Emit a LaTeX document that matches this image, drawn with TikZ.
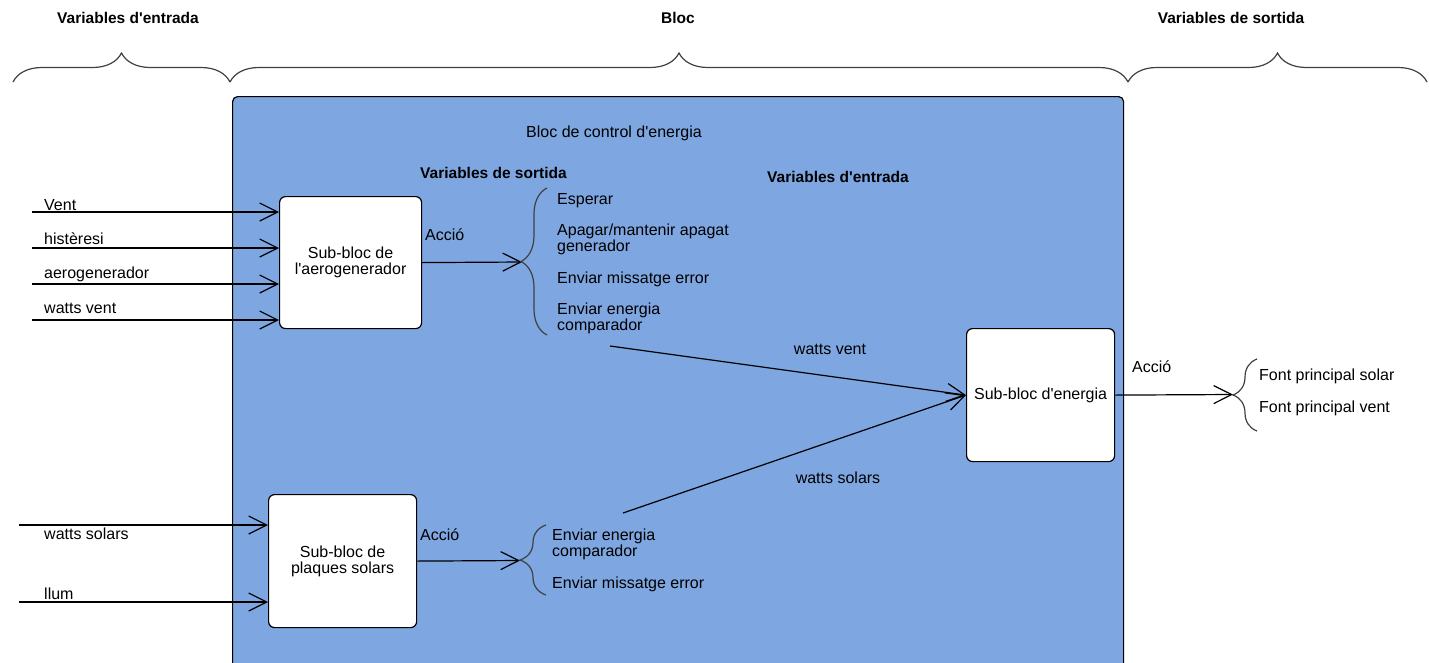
\documentclass[tikz,border=0pt]{standalone}
\usepackage{fontspec}
\setmainfont{Liberation Sans}
\usetikzlibrary{arrows.meta,decorations.pathreplacing}
\definecolor{blocblue}{HTML}{7EA6E0}
\definecolor{bracegray}{HTML}{404040}
\newcommand{\aq}{\textquotesingle}
\begin{document}
\begin{tikzpicture}[x=1pt,y=-1pt,
  txt/.style={inner sep=0pt, anchor=base west, font=\fontsize{16}{16}\selectfont},
  ctxt/.style={inner sep=0pt, anchor=base, font=\fontsize{16}{16}\selectfont},
  ttl/.style={inner sep=0pt, anchor=base, font=\bfseries\fontsize{15.5}{16}\selectfont},
  subbox/.style={draw=black, fill=white, rounded corners=6pt, line width=1.2pt, align=center, inner sep=0pt, anchor=north west, font=\fontsize{16}{16}\selectfont},
  conn/.style={line width=1.2pt, -{Straight Barb[length=18pt,width=18pt]}},
  bracestyle/.style={draw=bracegray, line width=1.2pt, decorate, decoration={brace, amplitude=#1}},
]
\useasboundingbox (0,0) rectangle (1429,662);
\clip (0,0) rectangle (1429,662);

% top braces and titles
\node[ttl] (tin) at (128,23.5) {Variables d\aq entrada};
\node[ttl] (tbloc) at (678,23.5) {Bloc};
\node[ttl] (tout) at (1231,23.5) {Variables de sortida};
\draw[bracestyle=29pt] (13,82) -- (230,82);
\draw[bracestyle=29pt] (230,82) -- (1128,82);
\draw[bracestyle=29pt] (1128,82) -- (1427,82);

% main block (runs past the bottom edge)
\node[draw=black, fill=blocblue, rounded corners=5pt, line width=1.2pt, minimum width=891pt, minimum height=600pt, inner sep=0pt, anchor=north west] (bloc) at (232,96) {};
\node[ctxt] (bloctitle) at (614,137.5) {Bloc de control d\aq energia};
\node[inner sep=0pt, anchor=base west, font=\bfseries\fontsize{15.5}{16}\selectfont] (vsort) at (420,178.5) {Variables de sortida};
\node[ttl] (ventr) at (838,182.5) {Variables d\aq entrada};

% sub-blocks
\node[subbox, minimum width=142pt, minimum height=132pt] (aero) at (279,196) {Sub-bloc de\\l\aq aerogenerador};
\node[subbox, minimum width=148pt, minimum height=133pt] (solar) at (268,494) {Sub-bloc de\\plaques solars};
\node[subbox, minimum width=148pt, minimum height=133pt] (energy) at (966,328) {Sub-bloc d\aq energia};

% inputs of aerogenerador
\coordinate (iVent) at (32,212);
\coordinate (iHist) at (32,248);
\coordinate (iAero) at (32,284);
\coordinate (iWv) at (32,320);
\draw[conn] (iVent) -- (iVent -| aero.west);
\draw[conn] (iHist) -- (iHist -| aero.west);
\draw[conn] (iAero) -- (iAero -| aero.west);
\draw[conn] (iWv) -- (iWv -| aero.west);
\node[txt] (lVent) at (44,210.5) {Vent};
\node[txt] (lHist) at (44,244.5) {histèresi};
\node[txt] (lAero) at (44,278.5) {aerogenerador};
\node[txt] (lWv) at (44,313.5) {watts vent};

% inputs of solar
\coordinate (iWs) at (19,525);
\coordinate (iLlum) at (19,602);
\draw[conn] (iWs) -- (iWs -| solar.west);
\draw[conn] (iLlum) -- (iLlum -| solar.west);
\node[txt] (lWs) at (44,539.5) {watts solars};
\node[txt] (lLlum) at (44,599.5) {llum};

% aerogenerador outputs
\coordinate (abr) at (522,262);
\draw[conn] (aero.east) -- (abr);
\node[txt] (aAccio) at (425,240.5) {Acció};
\draw[bracestyle=26pt] (547,335) -- (547,188);
\node[txt] (o1) at (557,204.5) {Esperar};
\node[txt] (o2a) at (557,235.5) {Apagar/mantenir apagat};
\node[txt] (o2b) at (557,251.5) {generador};
\node[txt] (o3) at (557,283.5) {Enviar missatge error};
\node[txt] (o4a) at (557,314.5) {Enviar energia};
\node[txt] (o4b) at (557,330.5) {comparador};

% solar outputs
\coordinate (sbr) at (520,560.5);
\draw[conn] (solar.east) -- (sbr);
\node[txt] (sAccio) at (420,540.5) {Acció};
\draw[bracestyle=26pt] (546,595) -- (546,525);
\node[txt] (s1a) at (552,540.5) {Enviar energia};
\node[txt] (s1b) at (552,556.5) {comparador};
\node[txt] (s2) at (552,588.5) {Enviar missatge error};

% to energy block
\coordinate (wv) at (610,346);
\coordinate (ws) at (623,513);
\draw[conn] (wv) -- (energy.west);
\draw[conn] (ws) -- (energy.west);
\node[ctxt] (lwv) at (830,354.5) {watts vent};
\node[ctxt] (lws) at (838,483.5) {watts solars};

% energy outputs
\coordinate (ebr) at (1233,394.5);
\draw[conn] (energy.east) -- (ebr);
\node[txt] (eAccio) at (1132,372.5) {Acció};
\draw[bracestyle=24pt] (1257,431) -- (1257,359);
\node[txt] (f1) at (1259,380.5) {Font principal solar};
\node[txt] (f2) at (1259,412.5) {Font principal vent};
\end{tikzpicture}
\end{document}
